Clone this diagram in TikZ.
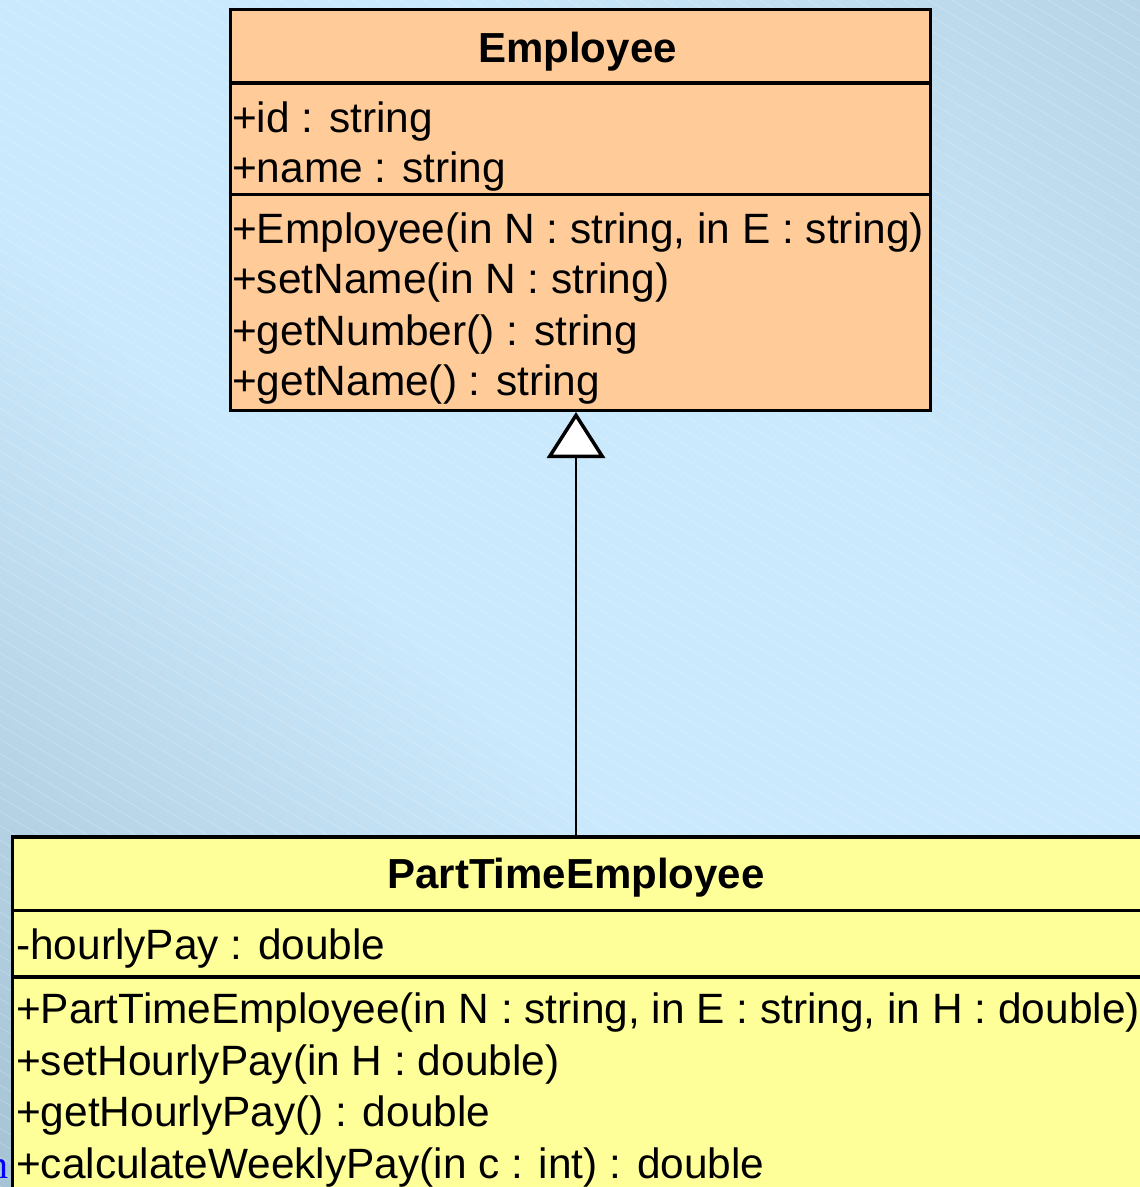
\documentclass[tikz,border=0pt]{standalone}
\usepackage{fontspec}
\setmainfont{Liberation Sans}
\newfontfamily\fragfont{Liberation Serif}
\usetikzlibrary{arrows.meta}
\definecolor{bglight}{RGB}{203,233,252}
\definecolor{bgdark}{RGB}{148,176,194}
\definecolor{bgdarkb}{RGB}{170,198,216}
\definecolor{peach}{RGB}{255,204,153}
\definecolor{paleyellow}{RGB}{255,255,153}
\pgfdeclareverticalshading{bgshade}{100bp}{color(0bp)=(bgdarkb); color(36bp)=(bglight); color(56bp)=(bglight); color(100bp)=(bgdark)}
\tikzset{
  classbox/.style={draw=black, line width=3.5pt, inner sep=0pt, anchor=north west},
  sepline/.style={draw=black, line width=3.5pt},
  member/.style={font=\fontsize{42.4}{50}\selectfont, inner sep=0pt, anchor=base west},
  header/.style={font=\fontsize{42}{50}\selectfont\bfseries, inner sep=0pt, anchor=base},
  stripe/.style={draw=white, opacity=0.22, line width=0.7pt},
  inherit/.style={draw=black, line width=1.5pt,
    -{Triangle[open, fill=white, length=46pt, width=58pt, line width=3.5pt]}}
}
\begin{document}
\begin{tikzpicture}[x=1pt, y=-1pt]
\useasboundingbox (0,0) rectangle (1140,1187);
% background (drawn in an upright frame)
\begin{scope}[y=1pt]
\fill[shading=bgshade, shading angle=135] (0,-1187) rectangle (1140,0);
\end{scope}
\begin{scope}
\clip (0,0) rectangle (1140,1187);
\foreach \i in {-2000,-1976,...,1140} {
  \draw[stripe] (\i,0) -- ++(1978,1187);
}
\end{scope}
% fragment of text at the left edge
\node[text=blue, font=\fontsize{40}{40}\fragfont, inner sep=0pt, anchor=base east] (frag) at (9,1178) {m};

% Employee class
\node[classbox, fill=peach, minimum width=700pt, minimum height=401pt] (emp) at (228.5,7.5) {};
\draw[sepline] (emp.west |- 0,83) -- (emp.east |- 0,83);
\draw[sepline] (emp.west |- 0,194.5) -- (emp.east |- 0,194.5);
\node[header] (empname) at (577.5,62) {Employee};
\node[member] (a1) at (232,132) {+id : string};
\node[member] (a2) at (232,182) {+name : string};
\node[member] (m1) at (232,243.5) {+Employee(in N : string, in E : string)};
\node[member] (m2) at (232,293.5) {+setName(in N : string)};
\node[member] (m3) at (232,345) {+getNumber() : string};
\node[member] (m4) at (232,395) {+getName() : string};

% PartTimeEmployee class
\node[classbox, fill=paleyellow, minimum width=1132pt, minimum height=420pt] (pte) at (10.5,835) {};
\draw[sepline] (pte.west |- 0,910.5) -- (pte.east |- 0,910.5);
\draw[sepline] (pte.west |- 0,977) -- (pte.east |- 0,977);
\node[header] (ptename) at (576,888.5) {PartTimeEmployee};
\node[member] (b1) at (16,959.5) {-hourlyPay : double};
\node[member] (n1) at (16,1023.5) {+PartTimeEmployee(in N : string, in E : string, in H : double)};
\node[member] (n2) at (16,1075) {+setHourlyPay(in H : double)};
\node[member] (n3) at (16,1126.5) {+getHourlyPay() : double};
\node[member] (n4) at (16,1178) {+calculateWeeklyPay(in c : int) : double};

% generalization
\coordinate (gx) at (576,0);
\draw[inherit] (pte.north -| gx) -- (emp.south -| gx);
\end{tikzpicture}
\end{document}
